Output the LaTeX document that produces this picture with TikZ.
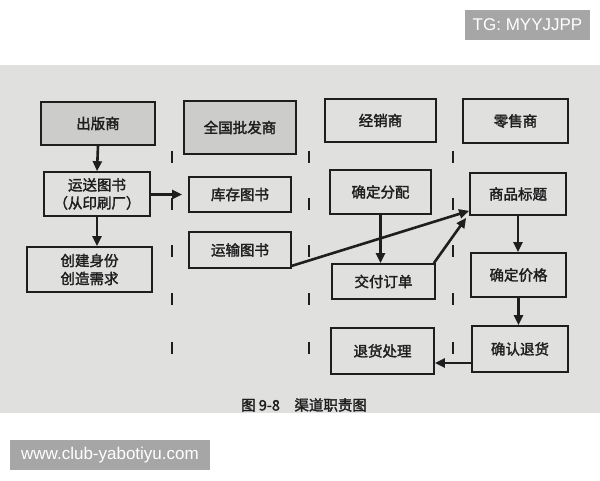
\documentclass[tikz,border=0pt]{standalone}
\usepackage{fontspec}
\newfontfamily\cjk[AutoFakeBold=2]{Noto Sans CJK SC}
\newfontfamily\wmfont{Liberation Sans}
\usetikzlibrary{arrows.meta}
\definecolor{paper}{RGB}{224,224,222}
\definecolor{boxgray}{RGB}{204,204,202}
\definecolor{ink}{RGB}{30,30,30}
\definecolor{wmgray}{RGB}{166,166,166}
\begin{document}
\begin{tikzpicture}[x=1pt, y=-1pt,
  box/.style={draw=ink, line width=1.7pt, inner sep=0pt, align=center, text=ink,
    font=\cjk\bfseries\fontsize{14.5}{18}\selectfont},
  head/.style={box, fill=boxgray},
  arr/.style={draw=ink, line width=2.6pt, -{Triangle[length=10pt,width=9pt]}},
  tick/.style={draw=ink, line width=2.8pt},
  wm/.style={fill=wmgray, text=white, font=\wmfont\fontsize{17}{20}\selectfont}]
  \useasboundingbox (0,0) rectangle (600,480);
  \fill[paper] (0,65) rectangle (600,413);
  \foreach \x in {172,309,453}
    \foreach \y in {157,204,251,299,348}
      \draw[tick] (\x,\y-6) -- (\x,\y+6);
  \node[head, minimum width=114pt, minimum height=43pt] (pub) at (98,123.5) {出版商};
  \node[head, minimum width=112pt, minimum height=53pt] (whole) at (240,127.5) {全国批发商};
  \node[box, minimum width=111pt, minimum height=43pt] (dist) at (380.5,120.5) {经销商};
  \node[box, minimum width=105pt, minimum height=44pt] (retail) at (515.5,121) {零售商};
  \node[box, minimum width=106pt, minimum height=44pt] (ship) at (97,194) {运送图书\\（从印刷厂）};
  \node[box, minimum width=125pt, minimum height=45pt] (create) at (89.5,269.5) {创建身份\\创造需求};
  \node[box, minimum width=102pt, minimum height=35pt] (stock) at (240,194.5) {库存图书};
  \node[box, minimum width=102pt, minimum height=36pt] (trans) at (240,250) {运输图书};
  \node[box, minimum width=101pt, minimum height=44pt] (alloc) at (380.5,192) {确定分配};
  \node[box, minimum width=103pt, minimum height=35pt] (deliver) at (383.5,281.5) {交付订单};
  \node[box, minimum width=103pt, minimum height=46pt] (refund) at (382.5,351) {退货处理};
  \node[box, minimum width=96pt, minimum height=42pt] (title) at (518,194) {商品标题};
  \node[box, minimum width=95pt, minimum height=44pt] (price) at (518.5,275) {确定价格};
  \node[box, minimum width=96pt, minimum height=46pt] (confirm) at (520,349) {确认退货};
  \draw[arr] (pub.south) -- (ship.north);
  \draw[arr] (ship.south) -- (ship.south |- create.north);
  \draw[arr, shorten >=6pt] (ship.east |- stock) -- (stock.west);
  \draw[arr] (alloc.south) -- (alloc.south |- deliver.north);
  \draw[arr] ([yshift=3pt]trans.south east) -- ([yshift=5pt]title.south west);
  \draw[arr] ([xshift=-2pt]deliver.north east) -- ([xshift=-3pt,yshift=-2pt]title.south west);
  \draw[arr] (title.south) -- (title.south |- price.north);
  \draw[arr] (price.south) -- (price.south |- confirm.north);
  \draw[arr] ([yshift=-14pt]confirm.west) -- ([yshift=-14pt]confirm.west -| refund.east);
  \node[text=ink, font=\cjk\bfseries\fontsize{14.5}{16}\selectfont] (cap) at (304,405) {图 9-8\quad 渠道职责图};
  \node[wm, minimum width=125pt, minimum height=30pt] (tg) at (527.5,25) {TG: MYYJJPP};
  \node[wm, minimum width=200pt, minimum height=30pt] (site) at (110,455) {www.club-yabotiyu.com};
\end{tikzpicture}
\end{document}
